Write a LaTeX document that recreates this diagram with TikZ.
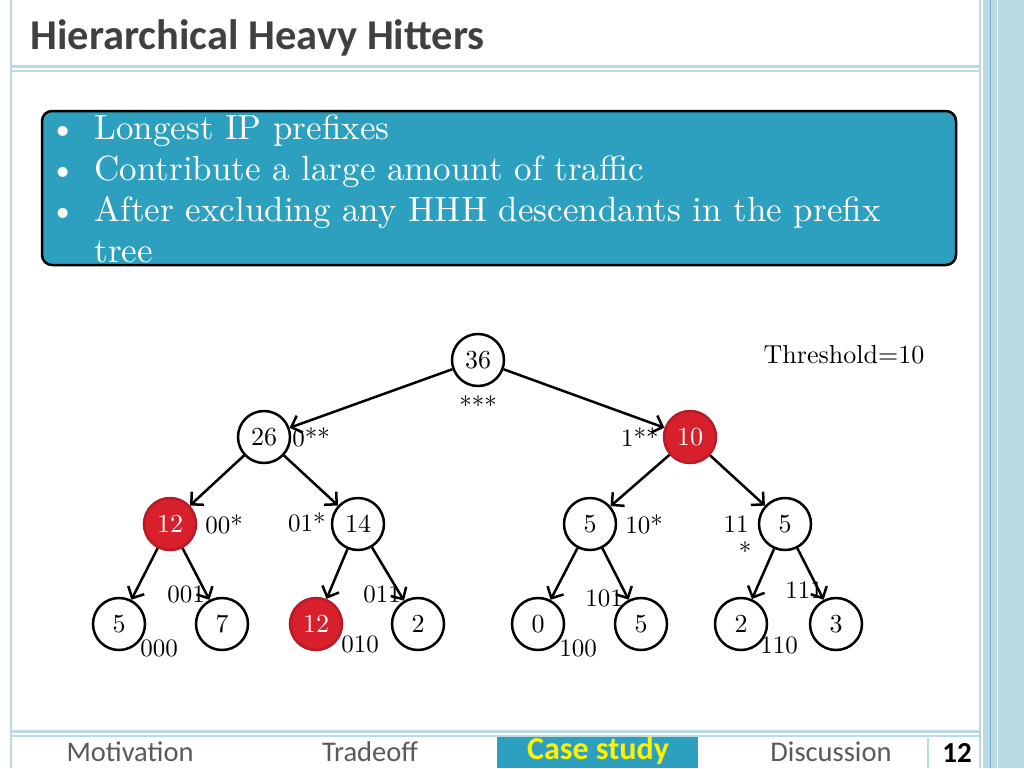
\documentclass[tikz,border=0pt]{standalone}
\usepackage{fontspec}
\setmainfont{lmroman10-regular}[Extension=.otf]
\newfontfamily\calfont{Carlito}
\usetikzlibrary{arrows.meta, positioning}
\definecolor{boxteal}{HTML}{2EA0BF}
\definecolor{hhred}{HTML}{D8202C}
\definecolor{framebl}{HTML}{B9D9E4}
\definecolor{framedk}{HTML}{6FB2CC}
\definecolor{titlegray}{HTML}{404040}
\definecolor{navgray}{HTML}{595959}

\begin{document}
\begin{tikzpicture}[
    x=1pt, y=-1pt,
    tnode/.style={circle, draw, line width=2.5pt, minimum size=52pt, inner sep=0pt, font=\fontsize{26}{26}\selectfont},
    hhh/.style={tnode, fill=hhred, draw=hhred!85!black, text=white},
    plabel/.style={inner sep=0pt, font=\fontsize{25}{25}\selectfont},
    navtext/.style={text=navgray, font=\calfont\fontsize{28.5}{28.5}\selectfont},
    frameline/.style={draw=framebl, line width=2pt},
    edge/.style={draw=black, line width=2.5pt, -{Straight Barb[length=9pt, width=18pt]}}
]
    \useasboundingbox (0,0) rectangle (1024,768);

    % slide frame
    \fill[framebl] (983,0) rectangle (1024,768);
    \draw[framedk, line width=1pt] (990,0) -- (990,768);
    \draw[white, line width=1pt] (997,0) -- (997,768);
    \draw[frameline] (11,0) -- (11,768);
    \draw[frameline] (980,0) -- (980,768);
    \draw[frameline, line width=3pt] (11,66) -- (980,66);
    \draw[frameline, line width=1.5pt] (11,71) -- (980,71);
    \draw[frameline, line width=3pt] (11,731) -- (980,731);
    \draw[frameline, line width=1.5pt] (11,736) -- (980,736);
    \draw[frameline] (928,738) -- (928,768);

    \node[anchor=west, text=titlegray, font=\calfont\bfseries\fontsize{42.5}{42.5}\selectfont] (title) at (27,38) {Hierarchical Heavy Hitters};

    % definition box
    \draw[fill=boxteal, draw=black, line width=2.5pt, rounded corners=10pt] (42,111) rectangle (956,265);
    \node[anchor=base west, inner sep=0pt, text=white, font=\fontsize{35}{41}\selectfont] (defs) at (49,139) {%
        \begin{tabular}[t]{@{}l@{\hspace{18pt}}l@{}}
            \textbullet & Longest IP prefixes\\
            \textbullet & Contribute a large amount of traffic\\
            \textbullet & After excluding any HHH descendants in the prefix\\
                        & tree
        \end{tabular}};

    \node[plabel, font=\fontsize{26}{26}\selectfont] (thr) at (844,355) {Threshold=10};

    % prefix tree
    \node[tnode] (root) at (478,360) {36};
    \node[tnode] (l) at (264,437) {26};
    \node[hhh] (r) at (690,437) {10};
    \node[hhh] (ll) at (170,524) {12};
    \node[tnode] (lr) at (358,524) {14};
    \node[tnode] (rl) at (590,524) {5};
    \node[tnode] (rr) at (785,524) {5};
    \node[tnode] (lll) at (119,624) {5};
    \node[tnode] (llr) at (222,624) {7};
    \node[hhh] (lrl) at (316,624) {12};
    \node[tnode] (lrr) at (418,624) {2};
    \node[tnode] (rll) at (538,624) {0};
    \node[tnode] (rlr) at (641,624) {5};
    \node[tnode] (rrl) at (741,624) {2};
    \node[tnode] (rrr) at (836,624) {3};

    \node[plabel, below=8pt of root] (p_root) {***};
    \node[plabel, right=1pt of l] (p_l) {0**};
    \node[plabel, left=4pt of r] (p_r) {1**};
    \node[plabel, right=8pt of ll] (p_ll) {00*};
    \node[plabel, left=5pt of lr, yshift=2pt] (p_lr) {01*};
    \node[plabel, right=8pt of rl] (p_rl) {10*};
    \node[plabel, left=9pt of rr] (p_rr) {11};
    \node[plabel] (p_rr2) at (745,551) {*};
    \node[plabel] (p_lll) at (159,648) {000};
    \node[plabel] (p_llr) at (186,594) {001};
    \node[plabel] (p_lrl) at (360,644) {010};
    \node[plabel] (p_lrr) at (382,594) {011};
    \node[plabel] (p_rll) at (578,648) {100};
    \node[plabel] (p_rlr) at (604,598) {101};
    \node[plabel] (p_rrl) at (779,645) {110};
    \node[plabel] (p_rrr) at (804,590) {111};

    \draw[edge] (root) -- (l);
    \draw[edge] (root) -- (r);
    \draw[edge] (l) -- (ll);
    \draw[edge] (l) -- (lr);
    \draw[edge] (r) -- (rl);
    \draw[edge] (r) -- (rr);
    \draw[edge] (ll) -- (lll);
    \draw[edge] (ll) -- (llr);
    \draw[edge] (lr) -- (lrl);
    \draw[edge] (lr) -- (lrr);
    \draw[edge] (rl) -- (rll);
    \draw[edge] (rl) -- (rlr);
    \draw[edge] (rr) -- (rrl);
    \draw[edge] (rr) -- (rrr);

    % navigation bar
    \fill[boxteal] (497,737) rectangle (698,768);
    \node[navtext] (nav1) at (130,752) {Motivation};
    \node[navtext] (nav2) at (370,752) {Tradeoff};
    \node[text=yellow, inner sep=0pt, font=\calfont\bfseries\fontsize{32}{32}\selectfont] (nav3) at (598,751) {Case study};
    \node[navtext] (nav4) at (831,752) {Discussion};
    \node[font=\calfont\bfseries\fontsize{29}{29}\selectfont] (page) at (957,753) {12};
\end{tikzpicture}
\end{document}
